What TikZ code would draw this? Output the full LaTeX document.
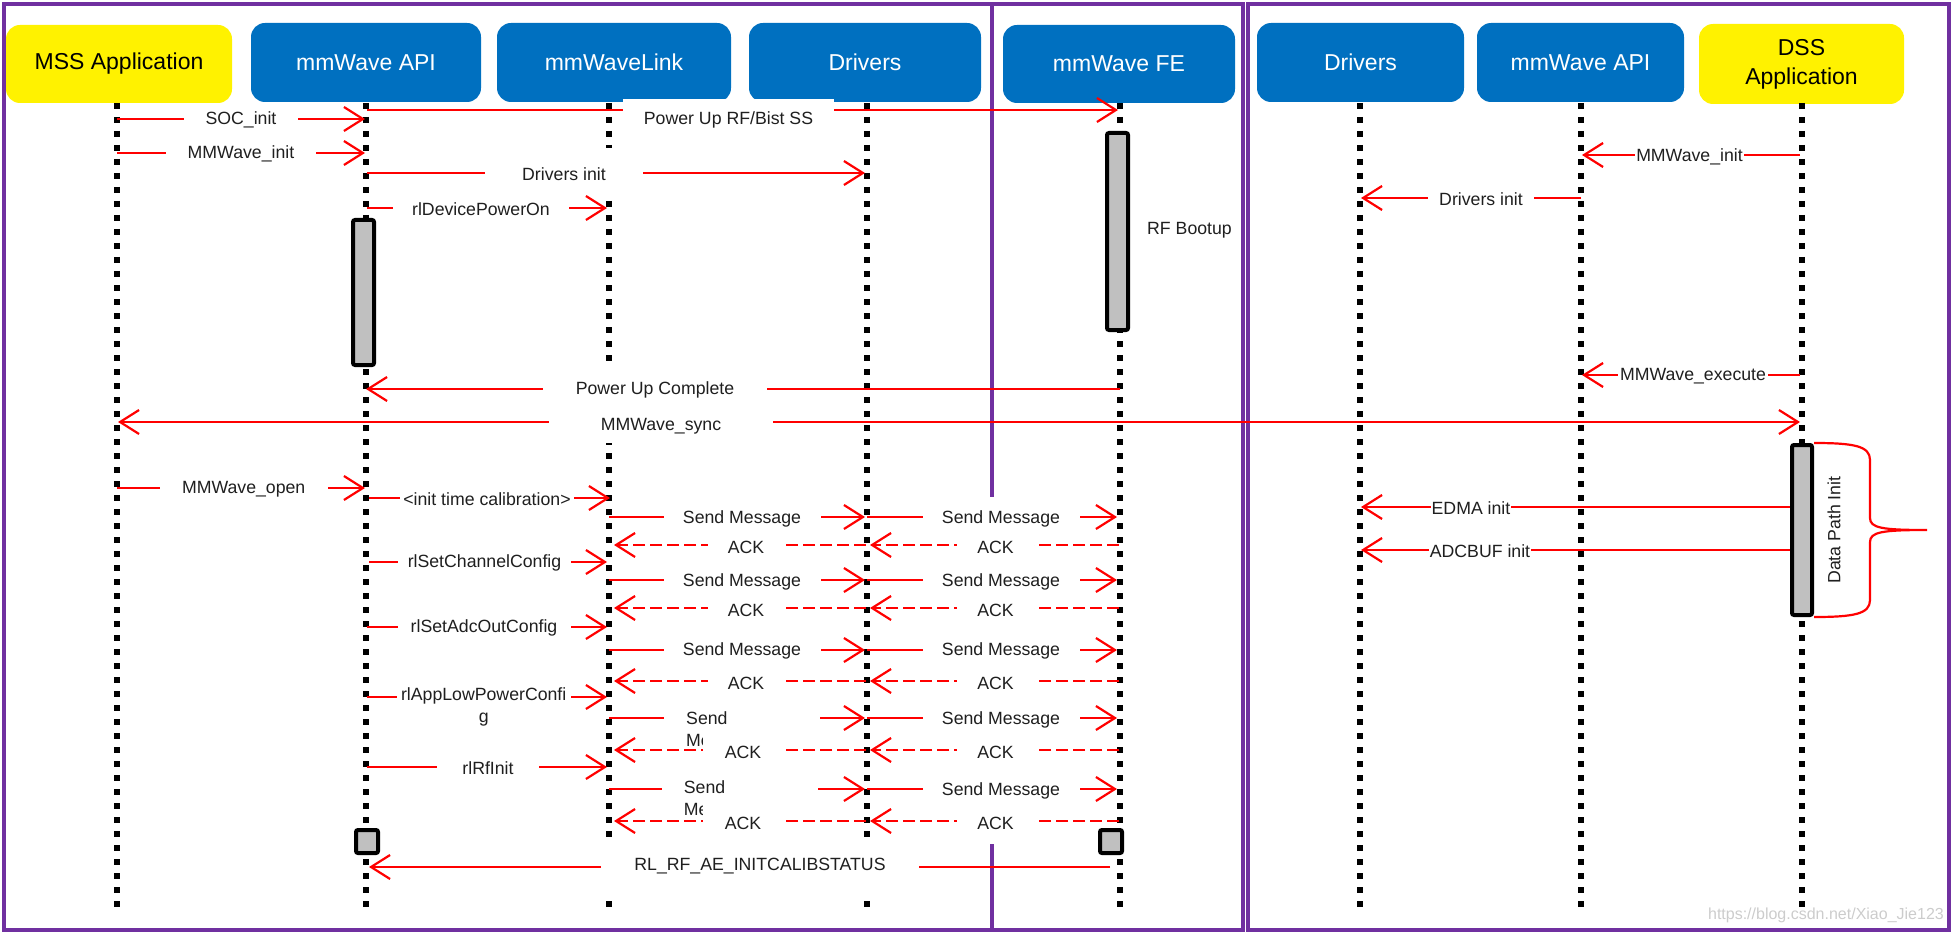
\documentclass[tikz,border=0pt]{standalone}
\usepackage{fontspec}
\setmainfont{Liberation Sans}
\usetikzlibrary{arrows.meta}
\definecolor{hdrblue}{RGB}{0,112,192}
\definecolor{frm}{RGB}{112,48,160}
\definecolor{actgray}{RGB}{192,192,192}
\newcommand{\labf}{\fontsize{17.7pt}{22pt}\selectfont}
\newcommand{\hdrf}{\fontsize{23pt}{29pt}\selectfont}
\newcommand{\mkarr}[5]{\coordinate (#1-s) at (#3,#5); \coordinate (#1-e) at (#4,#5); \draw[#2] (#1-s) -- (#1-e);}
\newcommand{\mklbl}[6]{\node[lab, minimum width=#4pt, minimum height=#5pt] (#1) at (#2,#3) {#6};}
\begin{document}
\begin{tikzpicture}[x=1pt,y=-1pt,
  frame/.style={draw=frm, line width=4.5pt},
  hdr/.style={fill=hdrblue, rounded corners=14pt, text=white, font=\hdrf, inner sep=0pt, align=center},
  hdry/.style={hdr, fill=yellow, text=black},
  life/.style={line width=5.5pt, dash pattern=on 6pt off 8pt},
  act/.style={draw=black, fill=actgray, line width=4pt, rounded corners=2pt, inner sep=0pt},
  msg/.style={red, line width=2.2pt, -{Straight Barb[length=19pt,width=24pt]}},
  dmsg/.style={red, line width=2.2pt, {Straight Barb[length=19pt,width=24pt]}-{Straight Barb[length=19pt,width=24pt]}},
  ack/.style={msg, dash pattern=on 12pt off 5pt},
  lab/.style={fill=white, inner sep=0pt, font=\labf, text=black!88, align=center},
  sendw/.style={lab, anchor=west, text width=112pt, align=left, inner xsep=22pt, inner ysep=2pt},
  plain/.style={font=\labf, text=black!88, inner sep=0pt},
]
\useasboundingbox (0,0) rectangle (1953,933);
% frames
\draw[frame] (4,4) rectangle (1243,930);
\draw[frame] (1248,4) rectangle (1949,930);
\coordinate (mvA) at (992,4); \coordinate (mvB) at (992,497);
\coordinate (mvC) at (992,844); \coordinate (mvD) at (992,930);
\draw[frame] (mvA) -- (mvB) (mvC) -- (mvD);
% headers
\node[hdry, minimum width=226pt, minimum height=78pt] (hMSS) at (119,64) {MSS Application};
\node[hdr, minimum width=230pt, minimum height=79pt] (hAPI) at (366,62.5) {mmWave API};
\node[hdr, minimum width=234pt, minimum height=79pt] (hLNK) at (614,62.5) {mmWaveLink};
\node[hdr, minimum width=232pt, minimum height=79pt] (hDRV) at (865,62.5) {Drivers};
\node[hdr, minimum width=232pt, minimum height=78pt] (hFE) at (1119,64) {mmWave FE};
\node[hdr, minimum width=207pt, minimum height=79pt] (hDRV2) at (1360.5,62.5) {Drivers};
\node[hdr, minimum width=207pt, minimum height=79pt] (hAPI2) at (1580.5,62.5) {mmWave API};
\node[hdry, minimum width=205pt, minimum height=80pt] (hDSS) at (1801.5,64) {DSS\\Application};
% lifelines
\foreach \n/\x in {MSS/117, API/366, LNK/609, DRV/867, FE/1120, DRV2/1360, API2/1581, DSS/1802} {
  \coordinate (l\n t) at (\x,103); \coordinate (l\n b) at (\x,908);
  \draw[life] (l\n t) -- (l\n b);
}
% activation boxes
\node[act, minimum width=21pt, minimum height=145pt] (apiact) at (363.5,292.5) {};
\node[act, minimum width=21pt, minimum height=197pt] (feact) at (1117.5,231.5) {};
\node[act, minimum width=20pt, minimum height=170pt] (dssact) at (1802,530) {};
\node[act, minimum width=22pt, minimum height=23pt] (apisq) at (367,841.5) {};
\node[act, minimum width=22pt, minimum height=23pt] (fesq) at (1111,841.5) {};
% left messages
\mkarr{mPRF}{msg}{367}{1118}{110}
\mklbl{tPRF}{728.5}{120}{211}{42}{Power Up RF/Bist SS}
\mkarr{mSOC}{msg}{117}{365}{119}
\mklbl{tSOC}{241}{120}{114}{22}{SOC\_init}
\mkarr{mMMI}{msg}{117}{365}{153}
\mklbl{tMMI}{241}{154}{150}{22}{MMWave\_init}
\mkarr{mDRV}{msg}{367}{865}{173}
\mklbl{tDRV}{564}{174}{158}{52}{Drivers init}
\mkarr{mPON}{msg}{367}{607}{208}
\mklbl{tPON}{481}{209}{176}{22}{rlDevicePowerOn}
\mkarr{mPUC}{msg}{1120}{366}{389}
\mklbl{tPUC}{655}{390}{224}{42}{Power Up Complete}
\mkarr{mSYN}{dmsg}{118}{1800}{422}
\mklbl{tSYN}{661}{426}{224}{34}{MMWave\_sync}
\mkarr{mOPN}{msg}{117}{365}{488}
\mklbl{tOPN}{243.7}{489}{168}{22}{MMWave\_open}
\mkarr{mCAL}{msg}{369}{610}{498}
\mklbl{tCAL}{487}{499}{174}{22}{<init time calibration>}
\mkarr{mCH}{msg}{369}{607}{562}
\mklbl{tCH}{484.5}{563}{173}{22}{rlSetChannelConfig}
\mkarr{mADC}{msg}{367}{607}{627}
\mklbl{tADC}{484}{628}{173}{22}{rlSetAdcOutConfig}
\mkarr{mLP}{msg}{367}{607}{697}
\mklbl{tLP}{483.7}{707}{174}{48}{rlAppLowPowerConfi\\g}
\mkarr{mRF}{msg}{367}{607}{767}
\mklbl{tRF}{488}{768}{102}{22}{rlRfInit}
% rows 1-3
\mkarr{sA1}{msg}{609}{865}{517} \mkarr{sB1}{msg}{867}{1117}{517}
\mklbl{tsA1}{742}{519}{157}{22}{Send Message} \mklbl{tsB1}{1001}{519}{157}{22}{Send Message}
\mkarr{aB1}{ack}{1119}{870}{545} \mkarr{aA1}{ack}{866}{614}{545}
\mklbl{taA1}{746}{547}{76}{22}{ACK} \mklbl{taB1}{995.5}{547}{77}{22}{ACK}
\mkarr{sA2}{msg}{609}{865}{580} \mkarr{sB2}{msg}{867}{1117}{580}
\mklbl{tsA2}{742}{582}{157}{22}{Send Message} \mklbl{tsB2}{1001}{582}{157}{22}{Send Message}
\mkarr{aB2}{ack}{1119}{870}{608} \mkarr{aA2}{ack}{866}{614}{608}
\mklbl{taA2}{746}{610}{76}{22}{ACK} \mklbl{taB2}{995.5}{610}{77}{22}{ACK}
\mkarr{sA3}{msg}{609}{865}{650} \mkarr{sB3}{msg}{867}{1117}{650}
\mklbl{tsA3}{742}{651}{157}{22}{Send Message} \mklbl{tsB3}{1001}{651}{157}{22}{Send Message}
\mkarr{aB3}{ack}{1119}{870}{681} \mkarr{aA3}{ack}{866}{614}{681}
\mklbl{taA3}{746}{683}{76}{22}{ACK} \mklbl{taB3}{995.5}{683}{77}{22}{ACK}
% row 4
\mkarr{sA4}{msg}{609}{865}{718} \mkarr{sB4}{msg}{867}{1117}{718}
\node[sendw] (tsA4) at (664,731) {Send\\Message};
\mklbl{tsB4}{1001}{720}{157}{22}{Send Message}
\mkarr{aB4}{ack}{1119}{870}{750} \mkarr{aA4}{ack}{866}{614}{750}
\mklbl{taA4}{743}{752}{80}{40}{ACK} \mklbl{taB4}{995.5}{752}{77}{22}{ACK}
% row 5
\mkarr{sA5}{msg}{609}{865}{789} \mkarr{sB5}{msg}{867}{1117}{789}
\node[sendw] (tsA5) at (661.7,800) {Send\\Message};
\mklbl{tsB5}{1001}{791}{157}{22}{Send Message}
\mkarr{aB5}{ack}{1119}{870}{821} \mkarr{aA5}{ack}{866}{614}{821}
\mklbl{taA5}{743}{823}{80}{40}{ACK} \mklbl{taB5}{995.5}{823}{77}{22}{ACK}
% final status
\mkarr{mRL}{msg}{1110}{369}{867}
\mklbl{tRL}{760}{866}{318}{53}{RL\_RF\_AE\_INITCALIBSTATUS}
% right side messages
\mkarr{mMIR}{msg}{1800}{1582}{155}
\mklbl{tMIR}{1689.5}{157}{109}{20}{MMWave\_init}
\mkarr{mDIR}{msg}{1581}{1361}{198}
\mklbl{tDIR}{1481}{199}{106}{22}{Drivers init}
\mkarr{mEXE}{msg}{1800}{1582}{375}
\mklbl{tEXE}{1693}{376}{150}{20}{MMWave\_execute}
\mkarr{mEDMA}{msg}{1790}{1361}{507}
\mklbl{tEDMA}{1471}{508}{80}{20}{EDMA init}
\mkarr{mADCB}{msg}{1790}{1361}{550}
\mklbl{tADCB}{1480}{551}{102}{20}{ADCBUF init}
% brace
\draw[red, line width=2.2pt] (dssact.north east) .. controls +(40,0) and +(0,-14) .. (1870,460) -- (1870,518) .. controls +(0,10) and +(-45,0) .. (1927,530) .. controls +(-45,0) and +(0,-10) .. (1870,542) -- (1870,600) .. controls +(0,14) and +(40,0) .. (dssact.south east);
% other texts
\node[plain, anchor=west] (tBoot) at (1147,230) {RF Bootup};
\node[plain, rotate=90] (tDPI) at (1834,530) {Data Path Init};
\node[font=\fontsize{16pt}{18pt}\selectfont, text=black!20, inner sep=0pt, anchor=east] (wm) at (1944,915) {https://blog.csdn.net/Xiao\_Jie123};
\end{tikzpicture}
\end{document}
